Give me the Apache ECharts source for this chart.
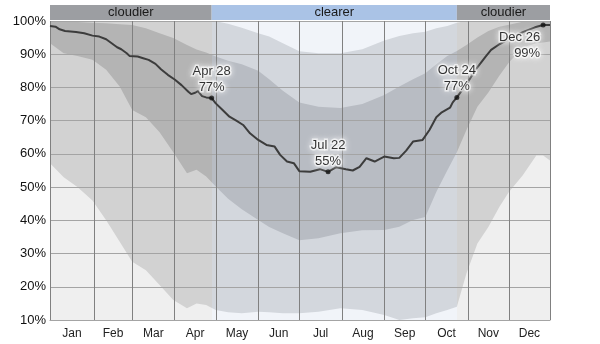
<!DOCTYPE html>
<html><head><meta charset="utf-8">
<script src="https://cdn.jsdelivr.net/npm/echarts@6/dist/echarts.min.js"></script>
<style>html,body{margin:0;padding:0;background:#fff}#c{width:600px;height:344px}</style>
</head><body><div id="c"></div>
<script>
// ---- data (day of year on x, cloud cover % on y) ----
const monthNames = ['Jan','Feb','Mar','Apr','May','Jun','Jul','Aug','Sep','Oct','Nov','Dec'];
const monthStarts = [0, 32, 60, 91, 121, 152, 182, 213, 244, 274, 305, 335];
const yearEnd = 365;
const yTicks = [10, 20, 30, 40, 50, 60, 70, 80, 90, 100];

const seasonNames = ['cloudier', 'clearer', 'cloudier'];
const seasonBounds = [0, 118, 297, 365];

const bandDays = [0, 10, 20, 31, 41, 51, 60, 70, 80, 90, 100, 107, 114, 121, 130, 140, 152, 160, 170, 182, 196, 212, 228, 244, 255, 265, 274, 282, 290, 297, 304, 312, 320, 328, 335, 345, 355, 360, 365];
const p90 = [100, 100, 100, 100, 100, 100, 100, 100, 100, 100, 100, 100, 100, 99.9, 99.2, 98, 96.3, 95.3, 93.3, 90.9, 90.3, 90.3, 91.5, 94.1, 95.5, 96.3, 96.8, 97.8, 98.5, 99.5, 100, 100, 100, 100, 100, 100, 100, 100, 100];
const p75 = [100, 99.8, 99.7, 99.5, 99.3, 99, 98.8, 97.8, 96.3, 94.9, 92.8, 91.4, 90.5, 89.3, 88, 87, 85, 82.5, 79, 75.5, 74.2, 73.8, 75, 77.7, 80.3, 82.5, 84.3, 87, 89.5, 91, 92.8, 95, 97, 98.3, 98.9, 99.8, 100, 100, 100];
const p25 = [93.3, 90.3, 89.5, 88.3, 85.3, 80.2, 73.2, 71, 66.5, 60.5, 54.2, 55.2, 53.2, 50.2, 46.5, 43.3, 40.1, 38, 36.1, 34, 34.6, 36.1, 37, 37.1, 38.1, 40.1, 41, 48.5, 55, 60.5, 67.2, 74.2, 78.5, 83.5, 87.5, 92, 93.3, 93.5, 93.8];
const p10 = [57.2, 53, 50, 46, 40, 33.5, 27.5, 25, 20.5, 16, 13.5, 15, 14.5, 13, 12.3, 12, 12.5, 12.3, 12, 12, 12.5, 13.5, 13, 11.5, 10, 10.5, 10.8, 12, 13, 14, 24, 33, 38, 44, 48.5, 53.5, 59.5, 59.5, 58];

const medianDays = [0, 4, 7, 11, 19, 25, 31, 36, 41, 45, 49, 52, 56, 58, 64, 68, 72, 77, 81, 86, 91, 96, 101, 103, 106, 108, 111, 114, 118, 121, 126, 131, 136, 141, 146, 152, 158, 164, 168, 173, 178, 182, 190, 197, 203, 209, 216, 221, 226, 231, 237, 244, 251, 255, 260, 265, 272, 277, 282, 286, 292, 294, 297, 304, 311, 318, 322, 328, 334, 339, 346, 354, 360, 365];
const medianValues = [98.5, 98.3, 97.5, 97, 96.7, 96.3, 95.6, 95.3, 94.5, 93.3, 92.1, 91.5, 90.3, 89.5, 89.3, 88.8, 88.3, 87.1, 85.5, 83.8, 82.4, 80.7, 78.7, 78, 78.4, 78.9, 77.4, 77, 76.8, 75.2, 73.2, 71.2, 70, 68.7, 66.2, 64.2, 62.7, 62.2, 59.7, 57.7, 57.2, 54.8, 54.6, 55.4, 54.6, 56, 55.4, 55, 56.1, 58.7, 57.7, 59.2, 58.7, 58.8, 61, 63.7, 64.2, 67.2, 71, 72.5, 73.9, 75.5, 77, 81, 85.5, 89.3, 91.3, 93, 94.3, 95.5, 96.8, 98.1, 98.8, 98.8];

const labelDays = [118, 203, 297, 360];
const labelDates = ['Apr 28', 'Jul 22', 'Oct 24', 'Dec 26'];
const labelValues = [76.8, 54.6, 77, 98.8];

// ---- styles ----
const FONT = '"Liberation Sans", Arial, sans-serif';
const bgColors = ['#efefef', '#f1f4f9', '#efefef'];
const outerBandColors = ['#d2d2d2', '#d3d7dd', '#d2d2d2'];
const innerBandColors = ['#b4b4b4', '#b8bcc3', '#b4b4b4'];
const headerColors = ['#9c9ea2', '#aac3e6', '#9c9ea2'];

const zip = (xs, ys) => xs.map((x, i) => [x, ys[i]]);
const monthMids = monthStarts.map((s, i) => (s + (i < 11 ? monthStarts[i + 1] : yearEnd)) / 2);
const seasonAreas = (colors) => seasonNames.map((n, i) => [
  { name: n, xAxis: seasonBounds[i], itemStyle: { color: colors[i], opacity: 1 } },
  { xAxis: seasonBounds[i + 1] }
]);

function bandSeries(values) {
  return {
    type: 'line', data: zip(bandDays, values), showSymbol: false, silent: true,
    lineStyle: { width: 0, opacity: 0 }, areaStyle: { opacity: 1, origin: 'start' }, z: 2
  };
}
function seasonPieces(colors) {
  return [
    { lt: seasonBounds[1], color: colors[0] },
    { gte: seasonBounds[1], lt: seasonBounds[2], color: colors[1] },
    { gte: seasonBounds[2], color: colors[2] }
  ];
}

const chart = echarts.init(document.getElementById('c'), null, { renderer: 'canvas' });
const option = {
  animation: false,
  textStyle: { fontFamily: FONT },
  grid: [
    { left: 50, right: 50, top: 21, bottom: 24 },
    { left: 50, right: 50, top: 5, height: 15 }
  ],
  xAxis: [
    {
      type: 'value', min: 0, max: yearEnd, gridIndex: 0,
      splitLine: { show: false }, axisTick: { show: false },
      axisLine: { show: true, lineStyle: { color: '#999' } },
      axisLabel: {
        customValues: monthMids, color: '#222', fontSize: 12, margin: 8, fontFamily: FONT,
        formatter: v => monthNames[monthMids.indexOf(v)] || ''
      }
    },
    { type: 'value', min: 0, max: yearEnd, gridIndex: 1, show: false }
  ],
  yAxis: [
    {
      type: 'value', min: 10, max: 100, interval: 10, gridIndex: 0, z: 3,
      axisLine: { show: false }, axisTick: { show: false },
      axisLabel: { formatter: '{value}%', color: '#111', fontSize: 13, margin: 4, fontFamily: FONT },
      splitLine: { show: true, lineStyle: { color: '#a4a4a4', width: 1 } }
    },
    { type: 'value', min: 0, max: 1, gridIndex: 1, show: false }
  ],
  visualMap: [
    { type: 'piecewise', show: false, seriesIndex: 1, dimension: 0, pieces: seasonPieces(outerBandColors) },
    { type: 'piecewise', show: false, seriesIndex: 2, dimension: 0, pieces: seasonPieces(innerBandColors) },
    { type: 'piecewise', show: false, seriesIndex: 3, dimension: 0, pieces: seasonPieces(outerBandColors) },
    { type: 'piecewise', show: false, seriesIndex: 4, dimension: 0, pieces: seasonPieces(bgColors) }
  ],
  series: [
    {
      type: 'line', data: [[0, 10]], showSymbol: false, silent: true,
      lineStyle: { opacity: 0, width: 0 },
      markArea: { silent: true, z: 1, label: { show: false }, data: seasonAreas(bgColors) },
      markLine: {
        silent: true, symbol: 'none', label: { show: false },
        lineStyle: { color: '#808080', type: 'solid', width: 1 },
        data: monthStarts.concat([yearEnd]).map(d => ({ xAxis: d }))
      }
    },
    bandSeries(p90),
    bandSeries(p75),
    bandSeries(p25),
    bandSeries(p10),
    {
      type: 'line', data: zip(medianDays, medianValues), showSymbol: false, silent: true,
      lineStyle: { color: '#3c3c3c', width: 2 }, z: 6
    },
    {
      type: 'scatter', silent: true, z: 7, symbolSize: 5,
      itemStyle: { color: '#111' },
      data: labelDays.map((d, i) => ({
        value: [d, labelValues[i]],
        label: i === labelDays.length - 1
          ? { position: 'bottom', align: 'right', distance: 2, offset: [-3, 0] }
          : { position: 'top', distance: 0 }
      })),
      label: {
        show: true, fontSize: 13, lineHeight: 16, color: '#000', fontFamily: FONT,
        textBorderColor: 'rgba(255,255,255,0.8)', textBorderWidth: 3,
        textShadowColor: 'rgba(255,255,255,1)', textShadowBlur: 6,
        formatter: p => labelDates[p.dataIndex] + '\n' + Math.round(p.value[1]) + '%'
      }
    },
    {
      type: 'line', xAxisIndex: 1, yAxisIndex: 1, data: [[0, 0]], showSymbol: false, silent: true,
      lineStyle: { opacity: 0, width: 0 },
      markArea: {
        silent: true,
        label: { show: true, position: 'inside', color: '#1a1a1a', fontSize: 13, fontFamily: FONT },
        data: seasonAreas(headerColors)
      }
    }
  ]
};
chart.setOption(option);
</script>
</body></html>
